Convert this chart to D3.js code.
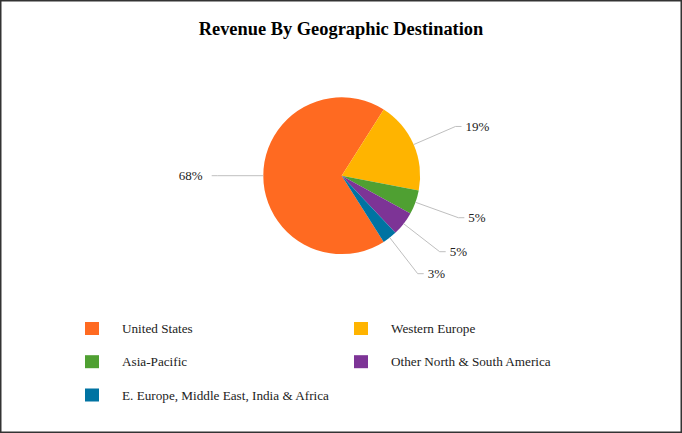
<!DOCTYPE html>
<html><head><meta charset="utf-8">
<script src="https://cdn.jsdelivr.net/npm/d3@7"></script>
<style>body{margin:0;background:#fff}svg{display:block}</style>
</head><body>
<svg id="c" width="682" height="433"></svg>
<script>
const categories = ["United States","Western Europe","Asia-Pacific","Other North & South America","E. Europe, Middle East, India & Africa"];
const values = [68,19,5,5,3];
const labels = ["68%","19%","5%","5%","3%"];
const colors = ["#FF6A21","#FFB400","#4FA032","#7D3496","#0073A2"];

const svg = d3.select("#c");
const W=682,H=433;
svg.append("rect").attr("x",0.75).attr("y",0.75).attr("width",W-1.5).attr("height",H-1.5)
  .attr("fill","#fff").attr("stroke","#333").attr("stroke-width",1.5);

svg.append("text").attr("x",341).attr("y",35).attr("text-anchor","middle")
  .attr("font-family","Liberation Serif").attr("font-weight","bold").attr("font-size",18.4)
  .text("Revenue By Geographic Destination");

const cx=341.7, cy=175.7, r=78.4;
const start = 147.6*Math.PI/180;
const pie = d3.pie().sort(null).startAngle(start).endAngle(start+2*Math.PI);
const arcs = pie(values);
const arc = d3.arc().innerRadius(0).outerRadius(r);
const g = svg.append("g").attr("transform",`translate(${cx},${cy})`);
g.selectAll("path").data(arcs).join("path").attr("d",arc).attr("fill",(d,i)=>colors[i]);

const rElbow = 124;
arcs.forEach((d,i)=>{
  const a=(d.startAngle+d.endAngle)/2;
  const sx=Math.sin(a), sy=-Math.cos(a);
  const p0=[r*sx,r*sy], p1=[rElbow*sx,rElbow*sy];
  const right = sx>=0;
  const p2=[p1[0]+(right?6:-6),p1[1]];
  g.append("polyline").attr("points",[p0,p1,p2].map(p=>p.join(",")).join(" "))
    .attr("fill","none").attr("stroke","#BFBFBF").attr("stroke-width",1);
  g.append("text").attr("x",p2[0]+(right?4:-9)).attr("y",p2[1]+4.5)
    .attr("text-anchor",right?"start":"end")
    .attr("font-family","Liberation Serif").attr("font-size",13).attr("fill","#222")
    .text(labels[i]);
});

const legX=[85,354], legY=[328.5,361.7,395];
categories.forEach((c,i)=>{
  const col=i%2, row=Math.floor(i/2);
  const x=legX[col], y=legY[row];
  svg.append("rect").attr("x",x).attr("y",y-6.5).attr("width",14).attr("height",13).attr("fill",colors[i]);
  svg.append("text").attr("x",x+37).attr("y",y+4.5)
    .attr("font-family","Liberation Serif").attr("font-size",13.2).attr("fill","#222").text(c);
});
</script>
</body></html>
